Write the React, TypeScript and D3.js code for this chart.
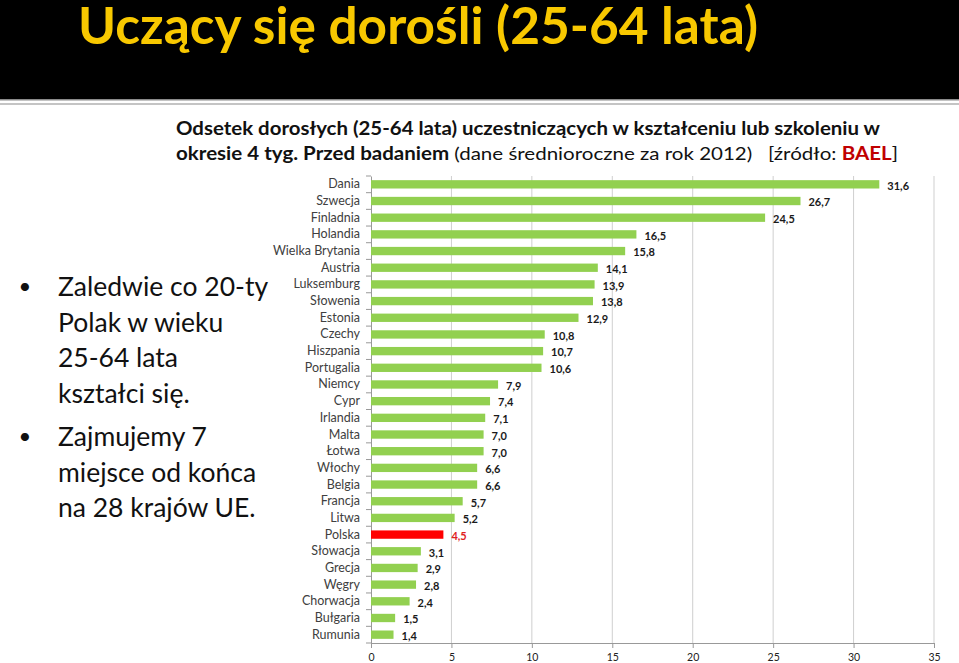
import React, { useRef, useEffect } from 'react';
import * as d3 from 'd3';

const countries: string[] = [
    'Dania', 'Szwecja', 'Finladnia', 'Holandia', 'Wielka Brytania', 'Austria', 'Luksemburg',
    'Słowenia', 'Estonia', 'Czechy', 'Hiszpania', 'Portugalia', 'Niemcy', 'Cypr', 'Irlandia',
    'Malta', 'Łotwa', 'Włochy', 'Belgia', 'Francja', 'Litwa', 'Polska', 'Słowacja', 'Grecja',
    'Węgry', 'Chorwacja', 'Bułgaria', 'Rumunia',
];
const values: number[] = [
    31.6, 26.7, 24.5, 16.5, 15.8, 14.1, 13.9, 13.8, 12.9, 10.8, 10.7, 10.6, 7.9, 7.4, 7.1,
    7.0, 7.0, 6.6, 6.6, 5.7, 5.2, 4.5, 3.1, 2.9, 2.8, 2.4, 1.5, 1.4,
];
const xTicks: number[] = [0, 5, 10, 15, 20, 25, 30, 35];
const highlighted = 'Polska';

const bullets: string[][] = [
    ['Zaledwie co 20-ty', 'Polak w wieku', '25-64 lata', 'kształci się.'],
    ['Zajmujemy 7', 'miejsce od końca', 'na 28 krajów UE.'],
];

const FONT = 'Lato, "Open Sans", sans-serif';

const App: React.FC = () => {
    const svgRef = useRef<SVGSVGElement | null>(null);

    useEffect(() => {
        document.body.style.margin = '0';
        const svg = d3.select(svgRef.current);
        svg.selectAll('*').remove();

        // header
        svg.append('rect').attr('x', 0).attr('y', 0).attr('width', 959).attr('height', 99).attr('fill', '#000');
        svg.append('rect').attr('x', 0).attr('y', 99).attr('width', 959).attr('height', 1.5).attr('fill', '#8a8a8a');
        svg.append('rect').attr('x', 0).attr('y', 103).attr('width', 959).attr('height', 2).attr('fill', '#c4c4c4');

        svg.append('text')
            .attr('x', 78)
            .attr('y', 44)
            .attr('textLength', 680)
            .attr('lengthAdjust', 'spacingAndGlyphs')
            .style('font-family', FONT)
            .style('font-weight', 700)
            .style('font-size', '52px')
            .attr('fill', '#F8C800')
            .text('Uczący się dorośli  (25-64 lata)');

        // subtitle
        const sub1 = svg.append('text')
            .attr('x', 176).attr('y', 135)
            .attr('textLength', 704)
            .attr('lengthAdjust', 'spacingAndGlyphs')
            .style('font-family', FONT)
            .style('font-size', '18px')
            .attr('fill', '#111');
        sub1.append('tspan').style('font-weight', 700)
            .text('Odsetek dorosłych (25-64 lata) uczestniczących w kształceniu lub szkoleniu w');

        const sub2 = svg.append('text')
            .attr('x', 176).attr('y', 160)
            .attr('textLength', 722)
            .attr('lengthAdjust', 'spacingAndGlyphs')
            .style('font-family', FONT)
            .style('font-size', '18px')
            .attr('fill', '#111')
            .attr('xml:space', 'preserve');
        sub2.append('tspan').style('font-weight', 700).text('okresie 4 tyg. Przed badaniem ');
        sub2.append('tspan').text('(dane średnioroczne za rok 2012)   [źródło: ');
        sub2.append('tspan').style('font-weight', 700).attr('fill', '#C00000').text('BAEL');
        sub2.append('tspan').text(']');

        // bullets
        let lineY = 296;
        bullets.forEach((group, gi) => {
            if (gi > 0) lineY += 8;
            svg.append('text')
                .attr('x', 25).attr('y', lineY - 2)
                .attr('text-anchor', 'middle')
                .style('font-family', FONT)
                .style('font-size', '22px')
                .attr('fill', '#111')
                .text('•');
            group.forEach(line => {
                svg.append('text')
                    .attr('x', 58).attr('y', lineY)
                    .style('font-family', FONT)
                    .style('font-size', '26.5px')
                    .attr('fill', '#111')
                    .text(line);
                lineY += 35.5;
            });
        });

        // chart
        const x = d3.scaleLinear().domain([0, 35]).range([371, 934]);
        const y = d3.scaleBand<string>()
            .domain(countries)
            .range([176, 643])
            .paddingInner(0.5)
            .paddingOuter(0.25);

        const g = svg.append('g');

        g.selectAll('.grid')
            .data(xTicks.slice(1))
            .enter()
            .append('line')
            .attr('x1', d => x(d)).attr('x2', d => x(d))
            .attr('y1', 176).attr('y2', 643)
            .attr('stroke', '#cfcfcf')
            .attr('stroke-width', 1);

        const xAxis = g.append('g')
            .attr('transform', 'translate(0,643)')
            .call(d3.axisBottom(x).tickValues(xTicks).tickSize(5).tickPadding(6).tickSizeOuter(0));
        xAxis.select('.domain').attr('stroke', '#999');
        xAxis.selectAll('line').attr('stroke', '#999');
        xAxis.selectAll('text')
            .style('font-family', FONT)
            .style('font-size', '10.5px')
            .attr('fill', '#222');

        const yAxis = g.append('g')
            .attr('transform', 'translate(371,0)')
            .call(d3.axisLeft(y).tickSize(0).tickPadding(11));
        yAxis.select('.domain').attr('stroke', '#999');
        yAxis.selectAll('text')
            .style('font-family', FONT)
            .style('font-size', '12.5px')
            .attr('fill', '#404040');

        g.selectAll('.ytick')
            .data(d3.range(countries.length + 1))
            .enter()
            .append('line')
            .attr('x1', 366).attr('x2', 371)
            .attr('y1', i => y.range()[0] + i * y.step())
            .attr('y2', i => y.range()[0] + i * y.step())
            .attr('stroke', '#999');

        const rows = countries.map((c, i) => ({ country: c, value: values[i] }));
        const fmt = (v: number) => d3.format('.1f')(v).replace('.', ',');

        g.selectAll('.bar')
            .data(rows)
            .enter()
            .append('rect')
            .attr('x', x(0))
            .attr('y', d => y(d.country)!)
            .attr('width', d => x(d.value) - x(0))
            .attr('height', y.bandwidth())
            .attr('fill', d => (d.country === highlighted ? '#FF0000' : '#92D050'));

        g.selectAll('.val')
            .data(rows)
            .enter()
            .append('text')
            .attr('x', d => x(d.value) + 8)
            .attr('y', d => y(d.country)! + y.bandwidth() / 2 + 2.5)
            .attr('dominant-baseline', 'middle')
            .style('font-family', FONT)
            .style('font-weight', 700)
            .style('font-size', '11px')
            .attr('fill', d => (d.country === highlighted ? '#E0201E' : '#1a1a1a'))
            .text(d => fmt(d.value));
    }, []);

    return <svg ref={svgRef} width={959} height={663} style={{ display: 'block', background: '#fff' }} />;
};

export default App;
